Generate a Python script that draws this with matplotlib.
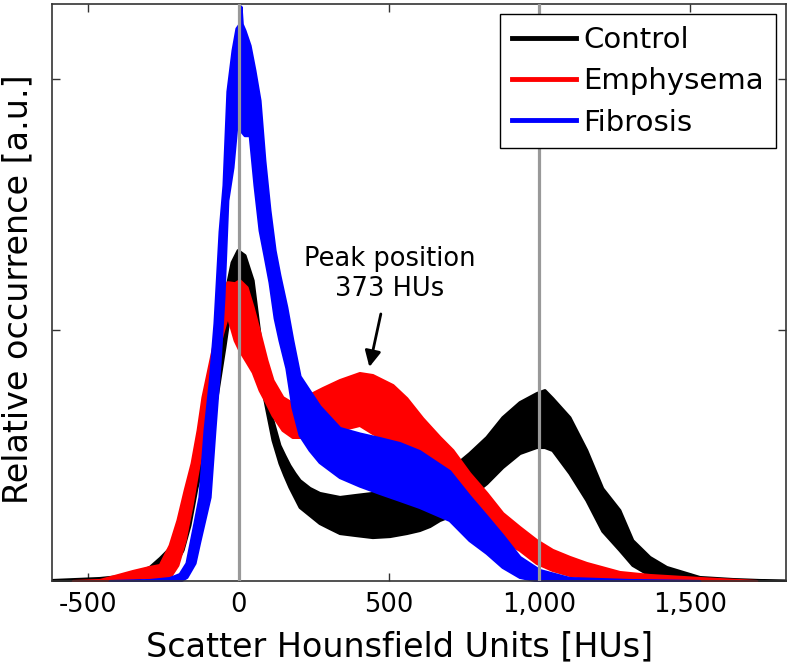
import numpy as np
import matplotlib.pyplot as plt
from matplotlib.lines import Line2D
from matplotlib.ticker import FuncFormatter

plt.rcParams['font.family'] = ['DejaVu Sans']
plt.rcParams['axes.unicode_minus'] = False

# Scatter HU position and noisy band (lower / upper envelope) for each group
ctrl_x  = [-621, -462, -362, -296, -262, -213, -186, -163, -140, -120, -103, -73, -47, -23, -3, 20, 47, 70, 93, 113,
           136, 152, 169, 186, 203, 236, 269, 302, 336, 389, 445, 502, 558, 601, 635, 668, 711, 767, 824, 877, 934,
           990, 1017, 1043, 1100, 1156, 1209, 1266, 1309, 1366, 1422, 1532, 1641, 1731, 1817]
ctrl_lo = [0, 0, 0.004, 0.02, 0.036, 0.064, 0.124, 0.223, 0.371, 0.470, 0.582, 0.733, 0.932, 1.131, 1.20, 1.159, 1.0,
           0.821, 0.681, 0.562, 0.470, 0.422, 0.375, 0.335, 0.295, 0.263, 0.231, 0.211, 0.191, 0.183, 0.175, 0.179,
           0.191, 0.203, 0.219, 0.243, 0.263, 0.335, 0.390, 0.454, 0.510, 0.534, 0.534, 0.522, 0.430, 0.323, 0.20,
           0.124, 0.064, 0.024, 0.012, 0.004, 0, 0, 0]
ctrl_hi = [0.004, 0.012, 0.024, 0.056, 0.092, 0.151, 0.203, 0.335, 0.470, 0.614, 0.733, 0.932, 1.131, 1.271, 1.319,
           1.299, 1.199, 0.980, 0.761, 0.641, 0.542, 0.502, 0.462, 0.430, 0.402, 0.371, 0.351, 0.343, 0.335, 0.343,
           0.351, 0.347, 0.343, 0.355, 0.367, 0.382, 0.454, 0.510, 0.574, 0.653, 0.713, 0.749, 0.761, 0.729, 0.653,
           0.522, 0.37, 0.283, 0.163, 0.096, 0.056, 0.016, 0.008, 0.004, 0.002]

emph_x  = [-551, -462, -352, -296, -262, -229, -203, -179, -156, -136, -120, -96, -73, -56, -37, -13, 3, 27, 47, 70,
           93, 113, 146, 179, 213, 246, 279, 336, 402, 445, 512, 558, 611, 668, 711, 767, 824, 877, 934, 990, 1043,
           1100, 1156, 1266, 1366, 1532, 1721]
emph_lo = [0, 0, 0.012, 0.016, 0.012, 0.016, 0.064, 0.163, 0.303, 0.442, 0.542, 0.681, 0.900, 0.980, 1.060, 0.960,
           0.920, 0.873, 0.833, 0.761, 0.709, 0.661, 0.602, 0.574, 0.574, 0.622, 0.622, 0.602, 0.622, 0.590, 0.550,
           0.502, 0.450, 0.390, 0.351, 0.283, 0.215, 0.163, 0.124, 0.072, 0.044, 0.024, 0.016, 0.004, 0.004, 0, 0]
emph_hi = [0, 0.004, 0.04, 0.056, 0.064, 0.143, 0.243, 0.363, 0.470, 0.602, 0.733, 0.869, 1.0, 1.131, 1.191, 1.187,
           1.199, 1.171, 1.092, 0.988, 0.880, 0.801, 0.733, 0.709, 0.721, 0.749, 0.769, 0.801, 0.829, 0.821, 0.781,
           0.729, 0.649, 0.574, 0.522, 0.430, 0.351, 0.271, 0.215, 0.163, 0.124, 0.096, 0.072, 0.036, 0.024, 0.012, 0]

fibr_x  = [-429, -296, -229, -196, -173, -146, -130, -113, -96, -80, -63, -50, -37, -20, -7, 3, 7, 11, 20, 37, 53, 70,
           86, 103, 120, 136, 159, 179, 203, 236, 269, 336, 402, 468, 535, 601, 701, 767, 824, 877, 934, 1000, 1100,
           1299, 1532]
fibr_lo = [0, 0, 0, 0, 0.016, 0.072, 0.159, 0.247, 0.335, 0.602, 0.869, 1.131, 1.518, 1.649, 1.817, 1.80, 1.797,
           1.79, 1.777, 1.777, 1.578, 1.398, 1.299, 1.191, 1.048, 0.960, 0.849, 0.693, 0.582, 0.522, 0.474, 0.414,
           0.380, 0.351, 0.323, 0.295, 0.243, 0.163, 0.112, 0.056, 0.016, 0, 0, 0, 0]
fibr_hi = [0, 0.004, 0.012, 0.028, 0.072, 0.235, 0.335, 0.602, 0.793, 1.028, 1.394, 1.578, 1.952, 2.116, 2.203, 2.22,
           2.29, 2.22, 2.195, 2.135, 2.036, 1.916, 1.677, 1.478, 1.319, 1.219, 1.092, 0.960, 0.817, 0.757, 0.697,
           0.610, 0.588, 0.570, 0.550, 0.518, 0.438, 0.339, 0.259, 0.183, 0.096, 0.044, 0.012, 0.004, 0]

groups = ['Control', 'Emphysema', 'Fibrosis']
colors = ['black', '#ff0000', '#0000ff']
ref_lines = [0, 1000]
peak_hu = 373

fig = plt.figure(figsize=(7.9, 6.63), dpi=100)
ax = fig.add_axes([0.0658, 0.1237, 0.9292, 0.8703])

series = [(ctrl_x, ctrl_lo, ctrl_hi), (emph_x, emph_lo, emph_hi), (fibr_x, fibr_lo, fibr_hi)]
for (x, lo, hi), c in zip(series, colors):
    ax.fill_between(x, lo, hi, color=c, lw=2.2, zorder=2)

for xv in ref_lines:
    ax.axvline(xv, color='#999999', lw=2.3, zorder=4)

ax.annotate('Peak position\n%d HUs' % peak_hu, xy=(435, 0.853), xytext=(502, 1.225),
            ha='center', va='center', fontsize=18.5, zorder=5,
            arrowprops=dict(arrowstyle='-|>', color='black', lw=2, mutation_scale=24,
                            shrinkA=7, shrinkB=0))

ax.set_xlim(-620, 1820)
ax.set_ylim(0, 2.3)
ax.set_xticks([-500, 0, 500, 1000, 1500])
ax.xaxis.set_major_formatter(FuncFormatter(lambda v, p: '{:,.0f}'.format(v)))
ax.set_yticks([1, 2])
ax.set_yticklabels([])
ax.tick_params(direction='in', length=6, width=1, top=True, right=True,
               labelsize=18.5, pad=8, color='#333333')
for s in ax.spines.values():
    s.set_color('#333333')
    s.set_linewidth(1.2)

ax.set_xlabel('Scatter Hounsfield Units [HUs]', fontsize=24)
ax.set_ylabel('Relative occurrence [a.u.]', fontsize=24)
ax.xaxis.set_label_coords(0.473, -0.085)
ax.yaxis.set_label_coords(-0.024, 0.505)

handles = [Line2D([], [], color=c, lw=3.5) for c in colors]
leg = ax.legend(handles, groups, loc='upper right', fontsize=21, fancybox=False,
                edgecolor='black', framealpha=1, borderaxespad=0.35, borderpad=0.4,
                handlelength=2.2, handletextpad=0.25, labelspacing=0.46)
leg.get_frame().set_linewidth(1)
leg.set_zorder(6)

fig.savefig('out.png', dpi=100)
